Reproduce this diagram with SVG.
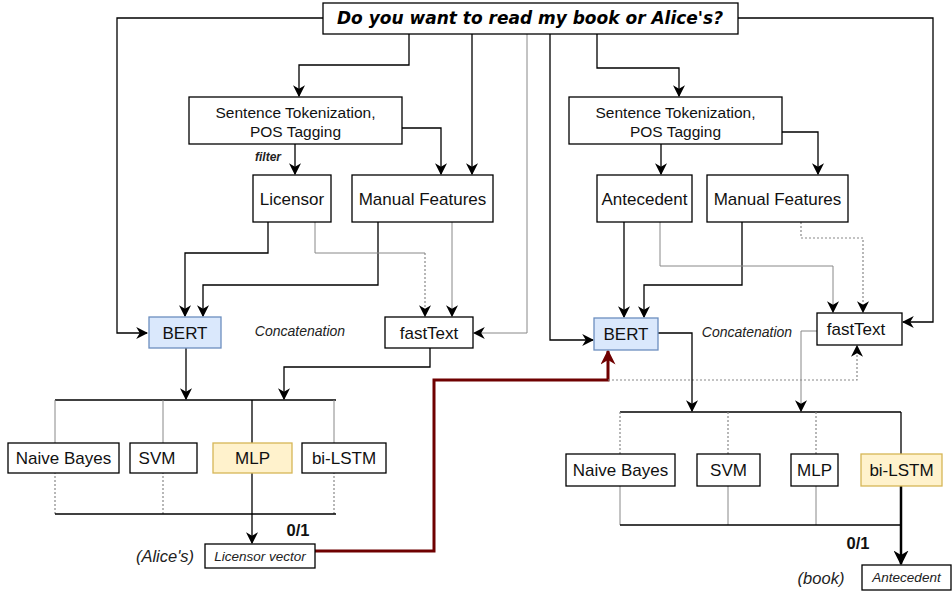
<svg xmlns="http://www.w3.org/2000/svg" width="952" height="592" viewBox="0 0 952 592">
<defs>
<marker id="ah" viewBox="0 0 10 10" refX="9" refY="5" markerWidth="12" markerHeight="12" markerUnits="userSpaceOnUse" orient="auto"><path d="M0,0 L10,5 L0,10 L3,5 Z" fill="#000"/></marker>
<marker id="ahb" viewBox="0 0 10 10" refX="9" refY="5" markerWidth="15" markerHeight="15" markerUnits="userSpaceOnUse" orient="auto"><path d="M0,0 L10,5 L0,10 L3,5 Z" fill="#000"/></marker>
<marker id="ahr" viewBox="0 0 10 10" refX="9" refY="5" markerWidth="15" markerHeight="15" markerUnits="userSpaceOnUse" orient="auto"><path d="M0,0 L10,5 L0,10 L3,5 Z" fill="#6f0000"/></marker>
</defs>
<style>
.box{fill:#fff;stroke:#000;stroke-width:1.3}
.blue{fill:#dae8fc;stroke:#6c8ebf;stroke-width:1.3}
.yel{fill:#fff2cc;stroke:#d6b656;stroke-width:1.3}
.t{font-family:"Liberation Sans",Arial,sans-serif;font-size:17px;fill:#111;text-anchor:middle}
.ts{font-family:"Liberation Sans",Arial,sans-serif;font-size:15.5px;fill:#111;text-anchor:middle}
.it{font-family:"Liberation Sans",Arial,sans-serif;font-style:italic;fill:#222;text-anchor:middle}
.b{font-family:"Liberation Sans",Arial,sans-serif;font-weight:bold;font-size:16.5px;fill:#111;text-anchor:middle}
.title{font-family:"DejaVu Sans",Verdana,sans-serif;font-weight:bold;font-style:oblique;font-size:17px;fill:#000;text-anchor:middle}
.k{fill:none;stroke:#000;stroke-width:1.3}
.g{fill:none;stroke:#888;stroke-width:1}
.gd{fill:none;stroke:#888;stroke-width:1.2;stroke-dasharray:2 2}
.a{marker-end:url(#ah)}
</style>
<g id="connectors">
<path class="k a" d="M323,18 H117 V333 H147"/>
<path class="k a" d="M409,34 V65 H299 V96"/>
<path class="k a" d="M472,34 V174"/>
<path class="k a" d="M402,128 H441 V174"/>
<path class="k a" d="M295,144 V174"/>
<path class="g a" d="M527,34 V333 H474"/>
<path class="k a" d="M550,34 V340 H593"/>
<path class="k a" d="M597,34 V68 H679 V96"/>
<path class="k a" d="M661,144 V174"/>
<path class="k a" d="M782,132 H818 V174"/>
<path class="k a" d="M738,18 H933 V322 H903"/>
<path class="k a" d="M268,222 V253 H185 V316"/>
<path class="k a" d="M378,222 V285 H203 V316"/>
<path class="g" d="M315,222 V253 H425"/>
<path class="gd a" d="M425,253 V316"/>
<path class="g a" d="M452,222 V316"/>
<path class="k a" d="M186,348 V399"/>
<path class="k a" d="M430,348 V367 H284 V399"/>
<path class="k" d="M55,400 H336"/>
<path class="g" d="M55,400 V443 M163,400 V443 M334,400 V443"/>
<path class="k" d="M252,400 V443"/>
<path class="gd" d="M55,472 V514 M163,472 V514 M334,472 V514"/>
<path class="k" d="M55,514 H336"/>
<path class="k a" d="M252,472 V543"/>
<path fill="none" stroke="#6f0000" stroke-width="3" marker-end="url(#ahr)" d="M315,551 H434 V380 H608 V351"/>
<path class="gd a" d="M608,380 H857 V346"/>
<path class="k a" d="M624,222 V317"/>
<path class="k a" d="M742,222 V285 H644 V317"/>
<path class="g a" d="M660,222 V266 H833 V312"/>
<path class="gd a" d="M801,222 V238 H863 V312"/>
<path class="k a" d="M658,333 H692 V411"/>
<path class="g a" d="M817,331 H801 V411"/>
<path class="k" d="M620,412 H901"/>
<path class="gd" d="M620,412 V454 M728,412 V454 M816,412 V454"/>
<path class="k" d="M901,412 V454"/>
<path class="g" d="M620,486 V525 M728,486 V525 M816,486 V525"/>
<path class="k" d="M620,525 H901"/>
<path fill="none" stroke="#000" stroke-width="2.5" marker-end="url(#ahb)" d="M901,486 V564"/>
</g>
<g id="question">
<rect class="box" x="323" y="3" width="415" height="31"/>
<text class="title" x="530" y="24">Do you want to read my book or Alice's?</text>
</g>
<g id="sent-left">
<rect class="box" x="189" y="97" width="213" height="47"/>
<text class="ts" x="295.5" y="118">Sentence Tokenization,</text>
<text class="ts" x="295.5" y="137">POS Tagging</text>
</g>
<text class="it" x="268" y="161" font-size="12" font-weight="bold" fill="#333">filter</text>
<g id="licensor">
<rect class="box" x="253" y="175" width="78" height="47"/>
<text class="t" x="292" y="205">Licensor</text>
</g>
<g id="manual-left">
<rect class="box" x="352" y="175" width="141" height="47"/>
<text class="t" x="422.5" y="205">Manual Features</text>
</g>
<g id="sent-right">
<rect class="box" x="569" y="97" width="213" height="47"/>
<text class="ts" x="675.5" y="118">Sentence Tokenization,</text>
<text class="ts" x="675.5" y="137">POS Tagging</text>
</g>
<g id="antecedent">
<rect class="box" x="597" y="175" width="95" height="47"/>
<text class="t" x="644.5" y="205">Antecedent</text>
</g>
<g id="manual-right">
<rect class="box" x="707" y="175" width="141" height="47"/>
<text class="t" x="777.5" y="205">Manual Features</text>
</g>
<g id="bert-left">
<rect class="blue" x="149" y="317" width="72" height="31"/>
<text class="t" x="185" y="339">BERT</text>
</g>
<text class="it" x="300" y="336" font-size="14">Concatenation</text>
<g id="fasttext-left">
<rect class="box" x="385" y="317" width="88" height="31"/>
<text class="t" x="429" y="339">fastText</text>
</g>
<g id="bert-right">
<rect class="blue" x="594" y="318" width="64" height="32"/>
<text class="t" x="626" y="340">BERT</text>
</g>
<text class="it" x="747" y="337" font-size="14">Concatenation</text>
<g id="fasttext-right">
<rect class="box" x="817" y="313" width="85" height="32"/>
<text class="t" x="856" y="335">fastText</text>
</g>
<g id="nb-left">
<rect class="box" x="8" y="443" width="111" height="30"/>
<text class="t" x="63.5" y="464">Naive Bayes</text>
</g>
<g id="svm-left">
<rect class="box" x="130" y="443" width="67" height="30"/>
<text class="t" x="157" y="464">SVM</text>
</g>
<g id="mlp-left">
<rect class="yel" x="213" y="443" width="79" height="30"/>
<text class="t" x="252.5" y="464">MLP</text>
</g>
<g id="bilstm-left">
<rect class="box" x="302" y="443" width="84" height="30"/>
<text class="t" x="344" y="464">bi-LSTM</text>
</g>
<g id="licensor-vector">
<rect class="box" x="205" y="544" width="110" height="24"/>
<text class="it" x="260" y="561" font-size="13.5">Licensor vector</text>
</g>
<text class="it" x="165" y="562" font-size="16.5">(Alice's)</text>
<text class="b" x="298" y="536">0/1</text>
<g id="nb-right">
<rect class="box" x="566" y="454" width="109" height="32"/>
<text class="t" x="620.5" y="476">Naive Bayes</text>
</g>
<g id="svm-right">
<rect class="box" x="697" y="454" width="63" height="32"/>
<text class="t" x="728.5" y="476">SVM</text>
</g>
<g id="mlp-right">
<rect class="box" x="791" y="454" width="47" height="32"/>
<text class="t" x="814.5" y="476">MLP</text>
</g>
<g id="bilstm-right">
<rect class="yel" x="861" y="454" width="81" height="32"/>
<text class="t" x="901.5" y="476">bi-LSTM</text>
</g>
<g id="antecedent-out">
<rect class="box" x="862" y="565" width="89" height="25"/>
<text class="it" x="906.5" y="582" font-size="13.5">Antecedent</text>
</g>
<text class="it" x="821" y="584" font-size="16.5">(book)</text>
<text class="b" x="858" y="549">0/1</text>
</svg>
